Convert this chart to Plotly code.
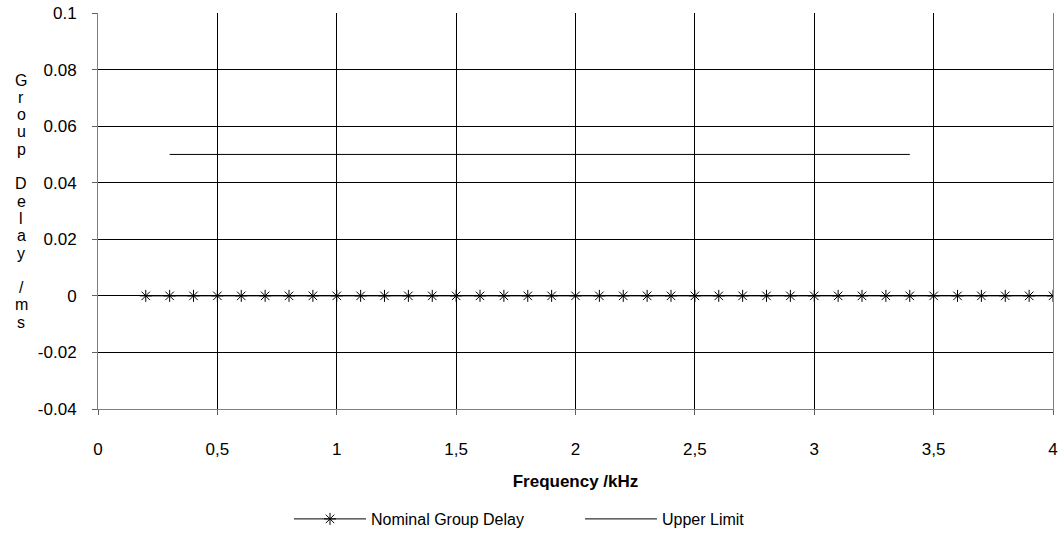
"""Group delay vs frequency chart."""
import plotly.graph_objects as go

FONT = "Liberation Sans, Arial, sans-serif"

# Nominal group delay series (kHz, ms)
nominal_freq = [0.2, 0.3, 0.4, 0.5, 0.6, 0.7, 0.8, 0.9, 1.0, 1.1, 1.2, 1.3, 1.4,
                1.5, 1.6, 1.7, 1.8, 1.9, 2.0, 2.1, 2.2, 2.3, 2.4, 2.5, 2.6, 2.7,
                2.8, 2.9, 3.0, 3.1, 3.2, 3.3, 3.4, 3.5, 3.6, 3.7, 3.8, 3.9, 4.0]
nominal_delay = [0, 0, 0, 0, 0, 0, 0, 0, 0, 0, 0, 0, 0,
                 0, 0, 0, 0, 0, 0, 0, 0, 0, 0, 0, 0, 0,
                 0, 0, 0, 0, 0, 0, 0, 0, 0, 0, 0, 0, 0]

# Upper limit series
limit_freq = [0.3, 3.4]
limit_delay = [0.05, 0.05]

x_ticks = [0, 0.5, 1, 1.5, 2, 2.5, 3, 3.5, 4]
x_labels = ["0", "0,5", "1", "1,5", "2", "2,5", "3", "3,5", "4"]
y_ticks = [-0.04, -0.02, 0, 0.02, 0.04, 0.06, 0.08, 0.1]
y_labels = ["-0.04", "-0.02", "0", "0.02", "0.04", "0.06", "0.08", "0.1"]

y_title = "Group Delay /ms"

# plot area in pixels (used for placing the stacked y title)
TOP, BOTTOM = 13, 409

fig = go.Figure()
fig.add_trace(go.Scatter(
    x=nominal_freq, y=nominal_delay, name="Nominal Group Delay",
    mode="lines+markers",
    line=dict(color="black", width=1),
    marker=dict(symbol="asterisk-open", size=10,
                line=dict(color="#333333", width=1)),
))
fig.add_trace(go.Scatter(
    x=limit_freq, y=limit_delay, name="Upper Limit",
    mode="lines", line=dict(color="black", width=1),
))

axis_common = dict(
    showline=True, linecolor="#808080", linewidth=1,
    showgrid=True, gridcolor="black", gridwidth=1,
    zeroline=False, ticks="outside", ticklen=5, tickcolor="#606060",
    automargin=False,
    tickfont=dict(family=FONT, size=17, color="black"),
)
fig.update_xaxes(range=[0, 4], tickvals=x_ticks, ticktext=x_labels,
                 ticklabelstandoff=20,
                 title=dict(text="<b>Frequency /kHz</b>", standoff=16,
                            font=dict(family=FONT, size=17, color="black")),
                 **axis_common)
fig.update_yaxes(range=[-0.04, 0.1], tickvals=y_ticks, ticktext=y_labels,
                 ticklabelstandoff=12, mirror=True, **axis_common)

# vertical, letter-stacked y title
for i, ch in enumerate(y_title):
    if ch == " ":
        continue
    ypx = 80 + 17.3 * i
    fig.add_annotation(
        text=ch, xref="paper", yref="paper",
        x=-77 / 955, y=(BOTTOM - ypx) / (BOTTOM - TOP),
        xanchor="center", yanchor="middle", showarrow=False,
        font=dict(family=FONT, size=16, color="black"),
    )

fig.update_layout(
    width=1063, height=546,
    margin=dict(l=98, r=10, t=TOP, b=546 - BOTTOM),
    plot_bgcolor="white", paper_bgcolor="white",
    font=dict(family=FONT, size=16, color="black"),
    showlegend=True,
    legend=dict(orientation="h", xref="container", yref="container",
                x=289 / 1063, y=1 - 519 / 546, xanchor="left", yanchor="middle",
                itemwidth=72, entrywidth=204,
                font=dict(family=FONT, size=16, color="black")),
)

fig.write_html("out.html", config={"displayModeBar": False},
               post_script="document.body.style.margin='0';")
